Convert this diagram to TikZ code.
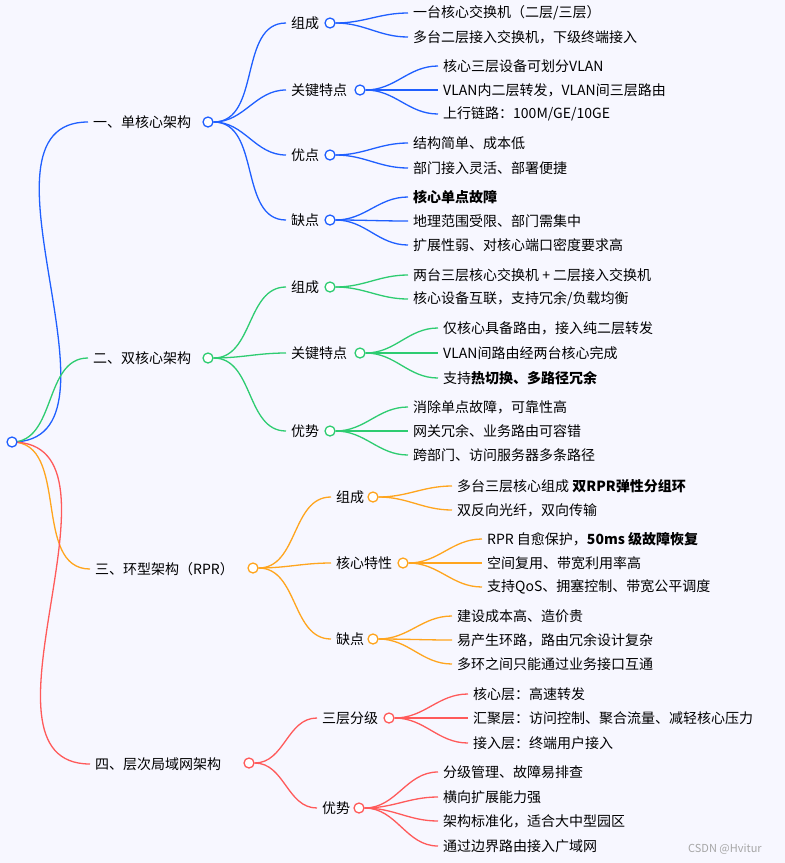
\documentclass[tikz,border=0pt]{standalone}
\usepackage{fontspec}
\setmainfont{Noto Sans CJK SC}
\pgfdeclarelayer{bg}\pgfsetlayers{bg,main}
\definecolor{cB}{HTML}{1F5FFF}
\definecolor{cG}{HTML}{2ECC71}
\definecolor{cO}{HTML}{FFA51E}
\definecolor{cR}{HTML}{FF5A5A}
\newcommand\mmn[6]{%
 \node[anchor=west,inner sep=0,font=\fontsize{14}{16}\selectfont] (#2) at (#3,#4) {#5};
 \begin{pgfonlayer}{bg}\draw[#1,line width=1.3pt] (#6) to[out=0,in=180] ([xshift=-5pt]#2.west);\end{pgfonlayer}}
\newcommand\mmc[4]{\node[circle,draw=#1,fill=white,minimum size=10pt,inner sep=0,line width=1.3pt] (#2) at (#3,#4) {};}
\begin{document}
\begin{tikzpicture}[x=1pt,y=-1pt]
\begin{pgfonlayer}{bg}
\fill[white!97!blue] (0,0) rectangle (785,863);
\end{pgfonlayer}
\useasboundingbox (0,0) rectangle (785,863);
\coordinate (root) at (12,442);
% branch 1
\mmn{cB}{a}{93}{122}{一、单核心架构}{root}
\mmc{cB}{ca}{208}{122}
\mmn{cB}{a1}{291}{23}{组成}{ca}\mmc{cB}{ca1}{330}{23}
\mmn{cB}{a11}{413}{13}{一台核心交换机（二层/三层）}{ca1}
\mmn{cB}{a12}{413}{37}{多台二层接入交换机，下级终端接入}{ca1}
\mmn{cB}{a2}{291}{90}{关键特点}{ca}\mmc{cB}{ca2}{360}{90}
\mmn{cB}{a21}{443}{66}{核心三层设备可划分VLAN}{ca2}
\mmn{cB}{a22}{443}{90}{VLAN内二层转发，VLAN间三层路由}{ca2}
\mmn{cB}{a23}{443}{114}{上行链路：100M/GE/10GE}{ca2}
\mmn{cB}{a3}{291}{155}{优点}{ca}\mmc{cB}{ca3}{330}{155}
\mmn{cB}{a31}{413}{143}{结构简单、成本低}{ca3}
\mmn{cB}{a32}{413}{168}{部门接入灵活、部署便捷}{ca3}
\mmn{cB}{a4}{291}{220}{缺点}{ca}\mmc{cB}{ca4}{330}{220}
\mmn{cB}{a41}{413}{197}{\bfseries 核心单点故障}{ca4}
\mmn{cB}{a42}{413}{221}{地理范围受限、部门需集中}{ca4}
\mmn{cB}{a43}{413}{245}{扩展性弱、对核心端口密度要求高}{ca4}
% branch 2
\mmn{cG}{b}{93}{358}{二、双核心架构}{root}
\mmc{cG}{cb}{208}{358}
\mmn{cG}{b1}{291}{287}{组成}{cb}\mmc{cG}{cb1}{330}{287}
\mmn{cG}{b11}{413}{275}{两台三层核心交换机 + 二层接入交换机}{cb1}
\mmn{cG}{b12}{413}{299}{核心设备互联，支持冗余/负载均衡}{cb1}
\mmn{cG}{b2}{291}{353}{关键特点}{cb}\mmc{cG}{cb2}{360}{353}
\mmn{cG}{b21}{443}{328}{仅核心具备路由，接入纯二层转发}{cb2}
\mmn{cG}{b22}{443}{353}{VLAN间路由经两台核心完成}{cb2}
\mmn{cG}{b23}{443}{378}{支持\textbf{热切换、多路径冗余}}{cb2}
\mmn{cG}{b3}{291}{431}{优势}{cb}\mmc{cG}{cb3}{330}{431}
\mmn{cG}{b31}{413}{407}{消除单点故障，可靠性高}{cb3}
\mmn{cG}{b32}{413}{431}{网关冗余、业务路由可容错}{cb3}
\mmn{cG}{b33}{413}{455}{跨部门、访问服务器多条路径}{cb3}
% branch 3
\mmn{cO}{c}{95}{569}{三、环型架构（RPR）}{root}
\mmc{cO}{cc}{253}{568}
\mmn{cO}{c1}{336}{497}{组成}{cc}\mmc{cO}{cc1}{373}{497}
\mmn{cO}{c11}{457}{486}{多台三层核心组成 \textbf{双RPR弹性分组环}}{cc1}
\mmn{cO}{c12}{457}{510}{双反向光纤，双向传输}{cc1}
\mmn{cO}{c2}{336}{563}{核心特性}{cc}\mmc{cO}{cc2}{403}{563}
\mmn{cO}{c21}{487}{539}{RPR 自愈保护，\textbf{50ms 级故障恢复}}{cc2}
\mmn{cO}{c22}{487}{563}{空间复用、带宽利用率高}{cc2}
\mmn{cO}{c23}{487}{587}{支持QoS、拥塞控制、带宽公平调度}{cc2}
\mmn{cO}{c3}{336}{639}{缺点}{cc}\mmc{cO}{cc3}{373}{639}
\mmn{cO}{c31}{457}{616}{建设成本高、造价贵}{cc3}
\mmn{cO}{c32}{457}{640}{易产生环路，路由冗余设计复杂}{cc3}
\mmn{cO}{c33}{457}{664}{多环之间只能通过业务接口互通}{cc3}
% branch 4
\mmn{cR}{d}{95}{764}{四、层次局域网架构}{root}
\mmc{cR}{cd}{249}{763}
\mmn{cR}{d1}{322}{718}{三层分级}{cd}\mmc{cR}{cd1}{389}{718}
\mmn{cR}{d11}{473}{694}{核心层：高速转发}{cd1}
\mmn{cR}{d12}{473}{718}{汇聚层：访问控制、聚合流量、减轻核心压力}{cd1}
\mmn{cR}{d13}{473}{743}{接入层：终端用户接入}{cd1}
\mmn{cR}{d2}{322}{808}{优势}{cd}\mmc{cR}{cd2}{359}{808}
\mmn{cR}{d21}{443}{772}{分级管理、故障易排查}{cd2}
\mmn{cR}{d22}{443}{797}{横向扩展能力强}{cd2}
\mmn{cR}{d23}{443}{821}{架构标准化，适合大中型园区}{cd2}
\mmn{cR}{d24}{443}{846}{通过边界路由接入广域网}{cd2}
\mmc{cB}{rootc}{12}{442}
\node[anchor=west,inner sep=0,font=\fontsize{11}{13}\selectfont,text=gray!70] (wm) at (688,849) {CSDN @Hvitur};
\end{tikzpicture}
\end{document}
